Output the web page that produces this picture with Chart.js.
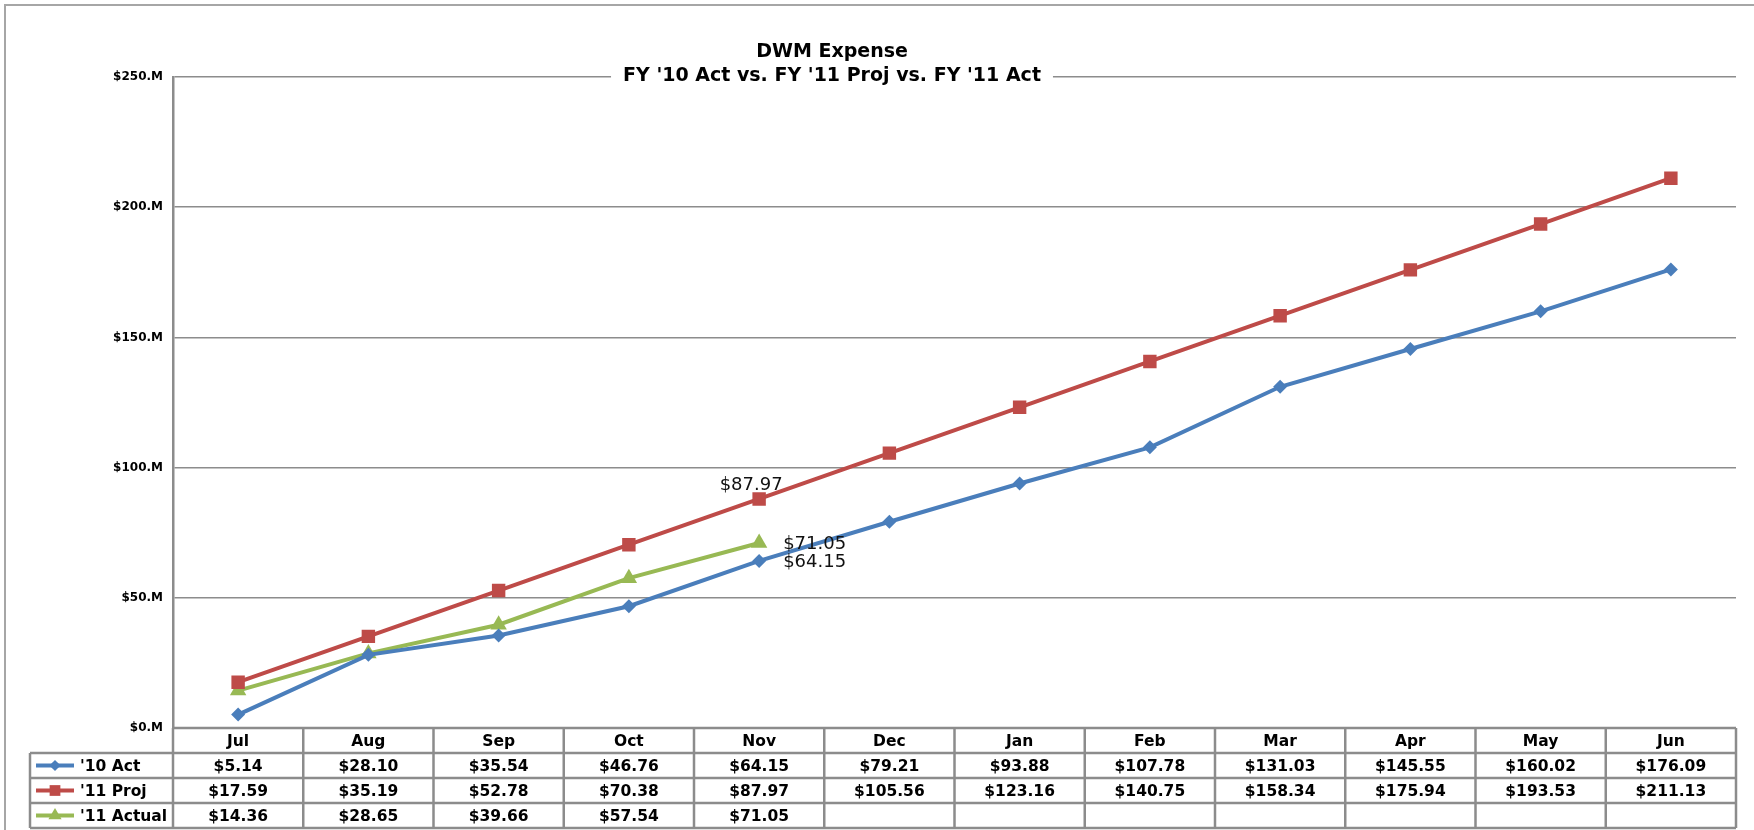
<!DOCTYPE html>
<html><head><meta charset="utf-8">
<script src="https://cdn.jsdelivr.net/npm/chart.js@4/dist/chart.umd.min.js"></script>
<style>html,body{margin:0;padding:0;background:#fff;overflow:hidden}</style>
</head><body>
<canvas id="c" width="1754" height="830"></canvas>
<script>
const categories = ['Jul','Aug','Sep','Oct','Nov','Dec','Jan','Feb','Mar','Apr','May','Jun'];
const act10  = [5.14, 28.10, 35.54, 46.76, 64.15, 79.21, 93.88, 107.78, 131.03, 145.55, 160.02, 176.09];
const proj11 = [17.59, 35.19, 52.78, 70.38, 87.97, 105.56, 123.16, 140.75, 158.34, 175.94, 193.53, 211.13];
const act11  = [14.36, 28.65, 39.66, 57.54, 71.05, null, null, null, null, null, null, null];
const seriesNames = ["'10 Act", "'11 Proj", "'11 Actual"];
const yTicks = [0, 50, 100, 150, 200, 250];
const titleText = 'DWM Expense';
const subtitleText = "FY '10 Act vs. FY '11 Proj vs. FY '11 Act";
// which points carry a value label: [datasetIndex, pointIndex, placement]
const labelledPoints = [[1, 4, 'above'], [2, 4, 'right'], [0, 4, 'right']];

const FONT = '"DejaVu Sans", sans-serif';
const GRID = '#8c8c8c';
const colors = ['#4A7EBB', '#BE4B48', '#98B954'];
const styles = [
  {pointStyle: 'rectRot', radius: 7},
  {pointStyle: 'rect', radius: 9.5},
  {pointStyle: 'triangle', radius: 9.5}
];
const seriesData = [act10, proj11, act11];
const fmt = v => '$' + v.toFixed(2);

const decorPlugin = {
  id: 'decor',
  afterDatasetsDraw(chart) {
    const ctx = chart.ctx;
    ctx.save();
    ctx.font = '18px ' + FONT;
    ctx.fillStyle = '#111';
    ctx.textBaseline = 'middle';
    labelledPoints.forEach(([d, i, where]) => {
      const pt = chart.getDatasetMeta(d).data[i];
      const txt = fmt(seriesData[d][i]);
      if (where === 'above') {
        ctx.textAlign = 'center';
        ctx.fillText(txt, pt.x - 8, pt.y - 14);
      } else {
        ctx.textAlign = 'left';
        ctx.fillText(txt, pt.x + 24, pt.y + 1);
      }
    });
    ctx.restore();
  },
  afterDraw(chart) {
    const ctx = chart.ctx;
    const area = chart.chartArea;
    const xs = chart.scales.x;
    ctx.save();
    // outer frame
    ctx.strokeStyle = '#a6a6a6';
    ctx.lineWidth = 2;
    ctx.strokeRect(5, 5, 1800, 900);
    // titles
    ctx.fillStyle = '#000';
    ctx.textAlign = 'center';
    ctx.textBaseline = 'middle';
    ctx.font = 'bold 19px ' + FONT;
    const cx = 832;
    ctx.fillText(titleText, cx, 52);
    const w = ctx.measureText(subtitleText).width;
    ctx.fillStyle = '#fff';
    ctx.fillRect(cx - w / 2 - 12, 66, w + 24, 20);
    ctx.fillStyle = '#000';
    ctx.fillText(subtitleText, cx, 76);

    // data table
    const n = categories.length;
    const colW = area.width / n;
    const top = area.bottom;
    const rowH = 25;
    const legendLeft = 30;
    ctx.strokeStyle = GRID;
    ctx.lineWidth = 2.5;
    ctx.beginPath();
    ctx.moveTo(area.left, top); ctx.lineTo(area.right, top);
    for (let r = 1; r <= 4; r++) {
      ctx.moveTo(legendLeft, top + r * rowH); ctx.lineTo(area.right, top + r * rowH);
    }
    for (let c = 0; c <= n; c++) {
      const x = area.left + c * colW;
      ctx.moveTo(x, top); ctx.lineTo(x, top + 4 * rowH);
    }
    ctx.moveTo(legendLeft, top + rowH); ctx.lineTo(legendLeft, top + 4 * rowH);
    ctx.stroke();

    ctx.fillStyle = '#000';
    ctx.font = 'bold 15.5px ' + FONT;
    ctx.textAlign = 'center';
    for (let c = 0; c < n; c++) {
      const x = xs.getPixelForValue(c);
      ctx.fillText(categories[c], x, top + rowH / 2 + 1);
      seriesData.forEach((arr, s) => {
        if (arr[c] !== null) ctx.fillText(fmt(arr[c]), x, top + (s + 1.5) * rowH + 1);
      });
    }
    // legend keys
    seriesNames.forEach((name, s) => {
      const y = top + (s + 1.5) * rowH;
      ctx.strokeStyle = colors[s];
      ctx.fillStyle = colors[s];
      ctx.lineWidth = 4;
      ctx.beginPath(); ctx.moveTo(36, y); ctx.lineTo(74, y); ctx.stroke();
      Chart.helpers.drawPoint(ctx, {pointStyle: styles[s].pointStyle, radius: styles[s].radius * 0.8, rotation: 0, borderWidth: 0}, 55, y);
      ctx.fillStyle = '#000';
      ctx.textAlign = 'left';
      ctx.fillText(name, 80, y + 1);
    });
    ctx.restore();
  }
};

new Chart(document.getElementById('c'), {
  type: 'line',
  data: {
    labels: categories,
    datasets: seriesData.map((arr, s) => ({
      label: seriesNames[s],
      data: arr,
      borderColor: colors[s],
      backgroundColor: colors[s],
      borderWidth: 4,
      pointStyle: styles[s].pointStyle,
      pointRadius: styles[s].radius,
      pointBorderWidth: 0,
      tension: 0,
      spanGaps: false
    }))
  },
  options: {
    responsive: false,
    animation: false,
    devicePixelRatio: 1,
    layout: {padding: {left: 0, right: 18, top: 77, bottom: 102}},
    plugins: {legend: {display: false}, tooltip: {enabled: false}, title: {display: false}},
    scales: {
      x: {type: 'category', offset: true, display: false},
      y: {
        min: yTicks[0], max: yTicks[yTicks.length - 1],
        afterBuildTicks: s => { s.ticks = yTicks.map(v => ({value: v})); },
        afterFit: s => { s.width = 173; },
        ticks: {
          padding: 10, color: '#000',
          font: {family: FONT, size: 12, weight: 'bold'},
          callback: v => '$' + v + '.M'
        },
        grid: {color: GRID, lineWidth: 1.5, drawTicks: false},
        border: {color: GRID, width: 2.5}
      }
    }
  },
  plugins: [decorPlugin]
});
</script>
</body></html>
